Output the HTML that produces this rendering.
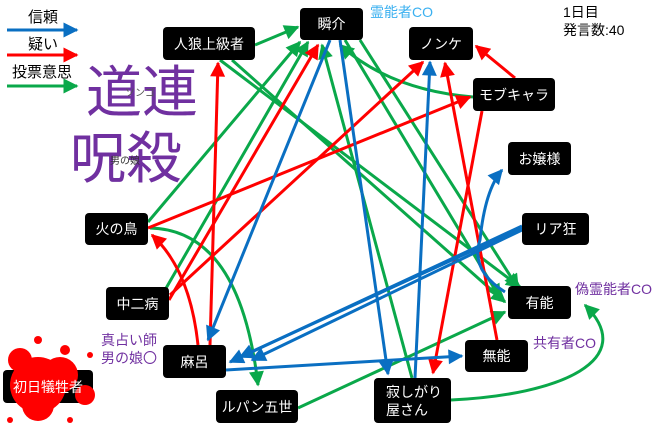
<!DOCTYPE html>
<html><head><meta charset="utf-8"><style>
body{margin:0;width:660px;height:426px;overflow:hidden;background:#fff;font-family:"Liberation Sans","Noto Sans CJK JP",sans-serif}
.n{position:absolute;background:#000;color:#fff;border-radius:4px;font-size:14px;display:flex;align-items:center;justify-content:center;box-sizing:border-box}
.t{position:absolute;white-space:nowrap}
</style></head><body>
<div class="n" style="left:3px;top:370px;width:90px;height:33px"></div>
<svg width="660" height="426" style="position:absolute;left:0;top:0">
<defs>
<marker id="g" viewBox="0 0 10 10" refX="9" refY="5" markerWidth="5.5" markerHeight="5" orient="auto" markerUnits="strokeWidth"><path d="M0,0L10,5L0,10z" fill="#0aa84a"/></marker>
<marker id="r" viewBox="0 0 10 10" refX="9" refY="5" markerWidth="5.5" markerHeight="5" orient="auto" markerUnits="strokeWidth"><path d="M0,0L10,5L0,10z" fill="#f00"/></marker>
<marker id="b" viewBox="0 0 10 10" refX="9" refY="5" markerWidth="5.5" markerHeight="5" orient="auto" markerUnits="strokeWidth"><path d="M0,0L10,5L0,10z" fill="#0a6fc2"/></marker>
</defs>
<g fill="none" stroke-width="3">
<line x1="7" y1="30" x2="77" y2="30" stroke="#0a6fc2" marker-end="url(#b)"/>
<line x1="7" y1="55" x2="77" y2="55" stroke="#f00" marker-end="url(#r)"/>
<line x1="7" y1="86" x2="77" y2="86" stroke="#0aa84a" marker-end="url(#g)"/>
<g stroke="#0aa84a" marker-end="url(#g)">
<line x1="255" y1="45" x2="298" y2="27"/>
<line x1="220" y1="60" x2="520" y2="287"/>
<line x1="232" y1="60" x2="505" y2="302"/>
<line x1="148" y1="222" x2="300" y2="42"/>
<line x1="165" y1="290" x2="308" y2="42"/>
<path d="M150,228 Q240,230 258,385"/>
<path d="M473,97 Q390,90 340,45"/>
<line x1="360" y1="40" x2="518" y2="288"/>
<line x1="345" y1="40" x2="500" y2="298"/>
<line x1="412" y1="378" x2="322" y2="45"/>
<line x1="298" y1="408" x2="505" y2="312"/>
<path d="M451,400 C560,395 640,360 585,305"/>
</g>
<g stroke="#f00" marker-end="url(#r)">
<line x1="169" y1="300" x2="318" y2="45"/>
<line x1="148" y1="228" x2="470" y2="97"/>
<line x1="170" y1="295" x2="423" y2="62"/>
<path d="M198,345 Q190,270 152,235"/>
<line x1="210" y1="345" x2="218" y2="63"/>
<line x1="515" y1="78" x2="476" y2="46"/>
<line x1="497" y1="340" x2="445" y2="63"/>
<line x1="482" y1="111" x2="433" y2="373"/>
</g>
<g stroke="#0a6fc2" marker-end="url(#b)">
<line x1="330" y1="40" x2="208" y2="340"/>
<line x1="340" y1="40" x2="388" y2="374"/>
<line x1="415" y1="378" x2="430" y2="62"/>
<line x1="522" y1="226" x2="230" y2="362"/>
<line x1="522" y1="228" x2="240" y2="357"/>
<line x1="522" y1="230" x2="252" y2="360"/>
<line x1="226" y1="370" x2="462" y2="356"/>
<path d="M505,292 Q470,270 480,240 Q485,190 502,170"/>
</g>
</g>
<g fill="#f00">
<circle cx="38" cy="385" r="28"/><circle cx="60" cy="375" r="18"/><circle cx="20" cy="360" r="12"/><circle cx="85" cy="395" r="10"/><circle cx="38" cy="405" r="16"/><circle cx="38" cy="340" r="4"/><circle cx="90" cy="355" r="3"/><circle cx="65" cy="350" r="5"/><circle cx="70" cy="420" r="3"/><circle cx="10" cy="420" r="3"/>
</g>
</svg>
<div class="t" style="left:28px;top:6px;font-size:15px">信頼</div>
<div class="t" style="left:28px;top:33px;font-size:15px">疑い</div>
<div class="t" style="left:12px;top:61px;font-size:15px">投票意思</div>
<div class="t" style="left:86px;top:62px;font-size:56px;line-height:62px;color:#7030a0">道連</div>
<div class="t" style="left:70px;top:128px;font-size:56px;line-height:62px;color:#7030a0">呪殺</div>
<div class="t" style="left:125px;top:84px;font-size:10px;color:#555">ソンゴ</div>
<div class="t" style="left:110px;top:152px;font-size:10px;color:#333">男の娘</div>
<div class="t" style="left:370px;top:2px;font-size:14px;color:#3ab0f0">霊能者CO</div>
<div class="t" style="left:563px;top:3px;font-size:14px;line-height:18px">1日目<br>発言数:40</div>
<div class="t" style="left:575px;top:279px;font-size:14px;color:#7030a0">偽霊能者CO</div>
<div class="t" style="left:533px;top:333px;font-size:14px;color:#7030a0">共有者CO</div>
<div class="t" style="left:101px;top:331px;font-size:14px;line-height:18px;color:#7030a0">真占い師<br>男の娘〇</div>
<div class="n" style="left:163px;top:27px;width:92px;height:33px">人狼上級者</div>
<div class="n" style="left:300px;top:8px;width:63px;height:32px">瞬介</div>
<div class="n" style="left:409px;top:27px;width:64px;height:33px">ノンケ</div>
<div class="n" style="left:473px;top:78px;width:82px;height:33px">モブキャラ</div>
<div class="n" style="left:508px;top:142px;width:63px;height:33px">お嬢様</div>
<div class="n" style="left:522px;top:213px;width:67px;height:32px">リア狂</div>
<div class="n" style="left:508px;top:286px;width:63px;height:33px">有能</div>
<div class="n" style="left:465px;top:340px;width:63px;height:32px">無能</div>
<div class="n" style="left:374px;top:378px;width:77px;height:45px;justify-content:flex-start;padding-left:12px;line-height:18px">寂しがり<br>屋さん</div>
<div class="n" style="left:216px;top:390px;width:82px;height:33px">ルパン五世</div>
<div class="n" style="left:163px;top:345px;width:63px;height:33px">麻呂</div>
<div class="n" style="left:106px;top:287px;width:63px;height:33px">中二病</div>
<div class="n" style="left:85px;top:213px;width:63px;height:32px">火の鳥</div>
<div class="n" style="left:3px;top:370px;width:90px;height:33px;background:transparent">初日犠牲者</div>
</body></html>
